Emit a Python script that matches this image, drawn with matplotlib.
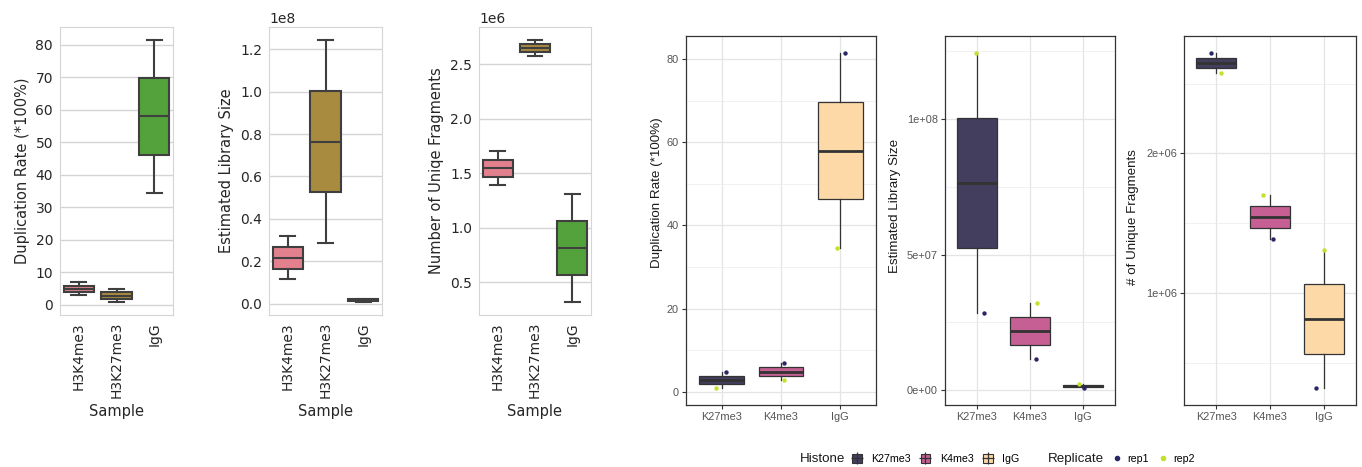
import numpy as np
import matplotlib
matplotlib.use("Agg")
import matplotlib.pyplot as plt
from matplotlib.patches import Patch
from matplotlib.lines import Line2D
from matplotlib.legend_handler import HandlerTuple
from matplotlib.ticker import MultipleLocator, FuncFormatter

# replicate values, ordered as in `histones`
histones = ["K27me3", "K4me3", "IgG"]
samples = ["H3K4me3", "H3K27me3", "IgG"]
sample_order = [1, 0, 2]          # index into histones for the left panels
replicates = ["rep1", "rep2"]

dup_rate_rep1 = [4.8, 6.9, 81.5]
dup_rate_rep2 = [0.9, 2.9, 34.5]
lib_size_rep1 = [2.85e7, 1.14e7, 0.8e6]
lib_size_rep2 = [1.243e8, 3.2e7, 2.4e6]
uniq_frag_rep1 = [2.72e6, 1.39e6, 0.32e6]
uniq_frag_rep2 = [2.576e6, 1.703e6, 1.312e6]

# horizontal jitter of the replicate points (category units)
dup_jit_rep1 = [0.08, 0.05, 0.08]
dup_jit_rep2 = [-0.10, 0.05, -0.06]
lib_jit_rep1 = [0.14, 0.11, 0.02]
lib_jit_rep2 = [-0.01, 0.125, -0.07]
uniq_jit_rep1 = [-0.09, 0.05, -0.15]
uniq_jit_rep2 = [0.09, -0.125, 0.0]

W, H = 1362, 467
fig = plt.figure(figsize=(W / 100, H / 100), dpi=100)


def rect(l, t, r, b):
    return [l / W, 1 - b / H, (r - l) / W, (b - t) / H]


# ---- seaborn-style panels ------------------------------------------------
sample_colors = ["#e3808e", "#a88b3e", "#54a23c"]
edge = "#3f3f3f"
left_panels = [
    (dup_rate_rep1, dup_rate_rep2, "Duplication Rate (*100%)", rect(60, 27, 173, 315), 10),
    (lib_size_rep1, lib_size_rep2, "Estimated Library Size", rect(269, 27, 382, 315), 2e7),
    (uniq_frag_rep1, uniq_frag_rep2, "Number of Uniqe Fragments", rect(479, 27, 591, 315), 5e5),
]
for r1, r2, label, pos, step in left_panels:
    ax = fig.add_axes(pos)
    data = [[r1[i], r2[i]] for i in sample_order]
    line = dict(color=edge, linewidth=1.5)
    bp = ax.boxplot(data, positions=range(3), widths=0.8, patch_artist=True,
                    whis=(0, 100), showfliers=False,
                    boxprops=dict(edgecolor=edge, linewidth=1.5),
                    medianprops=line, whiskerprops=line, capprops=line)
    for patch, c in zip(bp["boxes"], sample_colors):
        patch.set_facecolor(c)
    ax.set_xlim(-0.5, 2.5)
    ax.set_xticks(range(3))
    ax.set_xticklabels(samples, rotation=90)
    ax.yaxis.set_major_locator(MultipleLocator(step))
    ax.set_xlabel("Sample", fontsize=10.5, color="#262626")
    ax.set_ylabel(label, fontsize=10.5, color="#262626")
    ax.grid(axis="y", color="#d5d5d5", linewidth=1)
    ax.set_axisbelow(True)
    for s in ax.spines.values():
        s.set_color("#d5d5d5")
    ax.tick_params(length=0, labelsize=10, labelcolor="#262626", pad=5)
    ax.yaxis.get_offset_text().set_fontsize(10)
    ax.yaxis.get_offset_text().set_color("#262626")

# ---- ggplot-style panels -------------------------------------------------
gg_font = "Liberation Sans"
fills = [tuple(0.8 * np.array(c[:3]) + 0.2) for c in plt.cm.magma([0.1, 0.5, 0.9])]
rep_colors = ["#2a2766", "#c6df2b"]
sci = FuncFormatter(lambda v, p: f"{v:.0e}")

right_panels = [
    (dup_rate_rep1, dup_rate_rep2, dup_jit_rep1, dup_jit_rep2, "Duplication Rate (*100%)",
     rect(686, 36, 876, 405), 20, 10, None, (-0.12, 0.575)),
    (lib_size_rep1, lib_size_rep2, lib_jit_rep1, lib_jit_rep2, "Estimated Library Size",
     rect(945, 36, 1115, 405), 5e7, 2.5e7, sci, (-0.26, 0.54)),
    (uniq_frag_rep1, uniq_frag_rep2, uniq_jit_rep1, uniq_jit_rep2, "# of Unique Fragments",
     rect(1184, 36, 1356, 405), 1e6, 5e5, sci, (-0.26, 0.51)),
]
x = np.arange(1, 4)
for r1, r2, j1, j2, label, pos, major, minor, fmt, label_xy in right_panels:
    ax = fig.add_axes(pos)
    data = [[r1[i], r2[i]] for i in range(3)]
    line = dict(color="#333333", linewidth=0.9)
    bp = ax.boxplot(data, positions=x, widths=0.75, patch_artist=True,
                    whis=(0, 100), showfliers=False, showcaps=False,
                    boxprops=dict(edgecolor="#333333", linewidth=0.9),
                    medianprops=dict(color="#333333", linewidth=2),
                    whiskerprops=line, zorder=2)
    for patch, c in zip(bp["boxes"], fills):
        patch.set_facecolor(c)
    ax.scatter(x + np.array(j1), r1, s=10, color=rep_colors[0], zorder=3, linewidths=0)
    ax.scatter(x + np.array(j2), r2, s=10, color=rep_colors[1], zorder=3, linewidths=0)
    lo, hi = min(r1 + r2), max(r1 + r2)
    pad = 0.05 * (hi - lo)
    ax.set_ylim(lo - pad, hi + pad)
    ax.set_xlim(0.4, 3.6)
    ax.set_xticks(x)
    ax.set_xticklabels(histones, fontfamily=gg_font)
    ax.yaxis.set_major_locator(MultipleLocator(major))
    ax.yaxis.set_minor_locator(MultipleLocator(minor))
    if fmt is not None:
        ax.yaxis.set_major_formatter(fmt)
    for t in ax.get_yticklabels():
        t.set_fontfamily(gg_font)
    ax.grid(which="major", color="#e4e4e4", linewidth=0.9)
    ax.grid(which="minor", axis="y", color="#ebebeb", linewidth=0.5)
    ax.set_axisbelow(True)
    for s in ax.spines.values():
        s.set_color("#333333")
        s.set_linewidth(0.9)
    ax.tick_params(which="major", length=3, color="#333333", labelcolor="#555555",
                   labelsize=7.9, pad=2)
    ax.tick_params(which="minor", length=0)
    ax.set_ylabel(label, fontsize=9.6, fontfamily=gg_font, color="#1a1a1a")
    ax.yaxis.set_label_coords(*label_xy)

# legends under the ggplot panels
ly = 1 - 459 / H
fig.text(800 / W, ly, "Histone", fontsize=9.6, fontfamily=gg_font, color="#1a1a1a", va="center")
hist_handles = [(Patch(facecolor=c, edgecolor="#333333", linewidth=0.8),
                 Line2D([], [], color="#333333", marker="+", markersize=9,
                        markeredgewidth=0.9, linestyle="none")) for c in fills]
fig.legend(hist_handles, histones, handler_map={tuple: HandlerTuple(ndivide=1)},
           loc="center left", bbox_to_anchor=(852 / W, ly), ncol=3, frameon=False,
           prop={"family": gg_font, "size": 7.7}, handlelength=0.9, handleheight=0.9,
           handletextpad=0.9, columnspacing=0.9, borderpad=0, borderaxespad=0)

fig.text(1048 / W, ly, "Replicate", fontsize=9.6, fontfamily=gg_font, color="#1a1a1a", va="center")
rep_handles = [Line2D([], [], color=c, marker="o", markersize=3, linestyle="none")
               for c in rep_colors]
fig.legend(rep_handles, replicates, loc="center left", bbox_to_anchor=(1112 / W, ly),
           ncol=2, frameon=False, prop={"family": gg_font, "size": 7.7},
           handlelength=1.0, handletextpad=0.4, columnspacing=0.9,
           borderpad=0, borderaxespad=0)

fig.savefig("out.png", dpi=100)
